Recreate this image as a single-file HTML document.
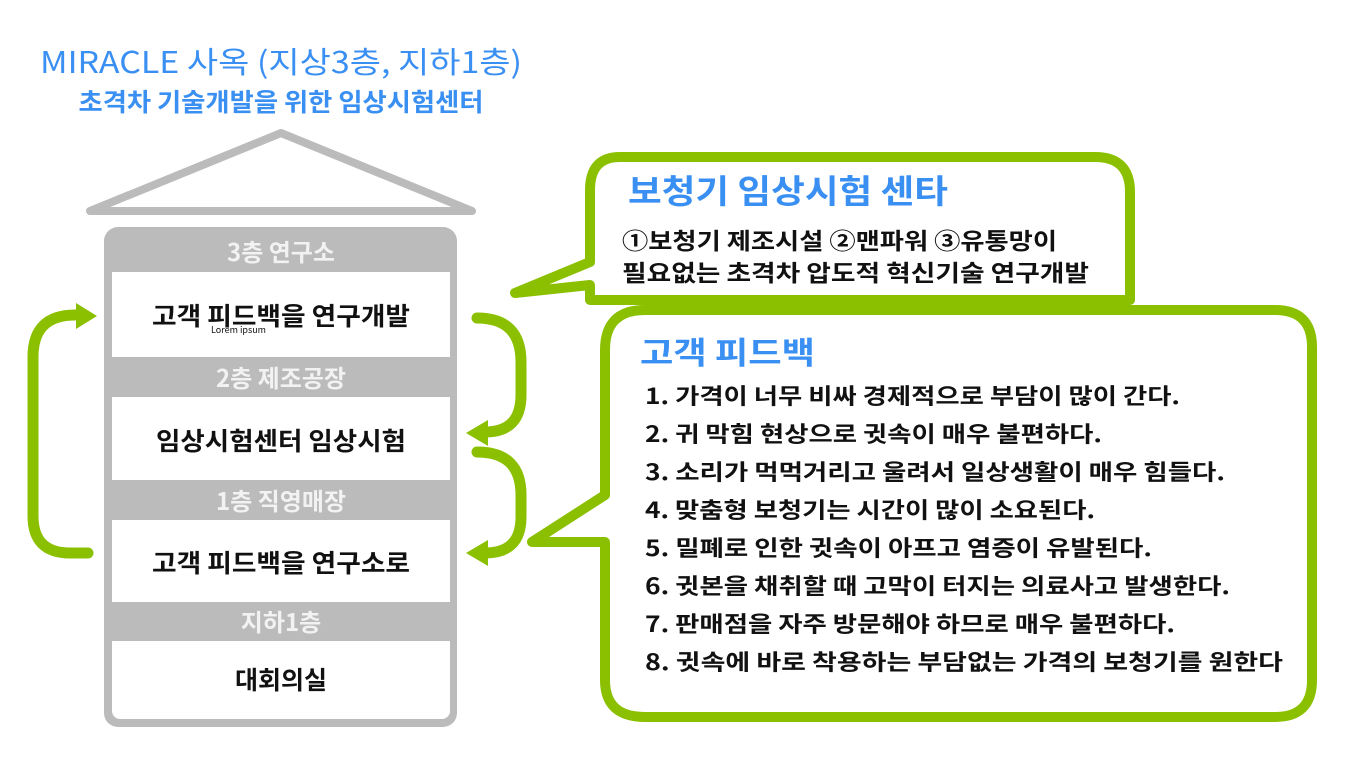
<!DOCTYPE html>
<html><head><meta charset="utf-8"><style>
html,body{margin:0;padding:0;background:#fff;}
svg{display:block;}
text{font-family:"Noto Sans CJK KR",sans-serif;}
</style></head><body>
<svg width="1346" height="778" viewBox="0 0 1346 778" xmlns="http://www.w3.org/2000/svg">
<!-- titles -->
<text x="281" y="73" text-anchor="middle" font-size="30" fill="#3a8ff2" textLength="482" lengthAdjust="spacingAndGlyphs">MIRACLE 사옥 (지상3층, 지하1층)</text>
<text x="281" y="111" text-anchor="middle" font-size="25" font-weight="bold" fill="#3a8ff2" textLength="405" lengthAdjust="spacingAndGlyphs">초격차 기술개발을 위한 임상시험센터</text>
<!-- roof -->
<path d="M90,211 L281,133 L472,211 Z" fill="#fff" stroke="#bbb" stroke-width="8" stroke-linejoin="round"/>
<!-- building -->
<rect x="104" y="227" width="353" height="500" rx="14" fill="#bbb"/>
<rect x="112" y="272" width="338" height="85" fill="#fff"/>
<rect x="112" y="397" width="338" height="83" fill="#fff"/>
<rect x="112" y="520" width="338" height="82" fill="#fff"/>
<rect x="112" y="641" width="338" height="78" rx="8" fill="#fff"/>
<rect x="112" y="641" width="338" height="20" fill="#fff"/>
<g font-weight="bold" text-anchor="middle">
<g fill="#f2f2f2" font-size="24">
<text x="281" y="261">3층 연구소</text>
<text x="281" y="387">2층 제조공장</text>
<text x="281" y="510">1층 직영매장</text>
<text x="281" y="631">지하1층</text>
</g>
<g fill="#111" font-size="25">
<text x="281" y="325" textLength="258" lengthAdjust="spacingAndGlyphs">고객 피드백을 연구개발</text>
<text x="281" y="450" textLength="250" lengthAdjust="spacingAndGlyphs">임상시험센터 임상시험</text>
<text x="281" y="572" textLength="258" lengthAdjust="spacingAndGlyphs">고객 피드백을 연구소로</text>
<text x="281" y="689">대회의실</text>
</g>
</g>
<text x="211" y="333" font-size="9" fill="#111" font-family="Liberation Sans, sans-serif">Lorem ipsum</text>
<!-- arrows -->
<g fill="none" stroke="#8bc000" stroke-width="11" stroke-linecap="round">
<path d="M88,553 L70,553 Q33,553 33,516 L33,357 Q33,315 75,315"/>
<path d="M477,318 Q521,318 521,362 L521,395 Q521,432 485,432"/>
<path d="M477,452 Q521,452 521,495 L521,517 Q521,553 485,553"/>
</g>
<g fill="#8bc000">
<polygon points="97,316 76,303 76,329"/>
<polygon points="466,433 488,420 488,446"/>
<polygon points="466,553 488,540 488,566"/>
</g>
<!-- bubble 1 -->
<path d="M620,157 L1095,157 Q1130,157 1130,192 L1130,300 L590,300 L590,285 L515,293 L590,262 L590,190 Q590,157 620,157 Z" fill="#fff" stroke="#8bc000" stroke-width="10" stroke-linejoin="round"/>
<!-- bubble 2 -->
<path d="M645,310 L1275,310 Q1312,310 1312,347 L1312,680 Q1312,717 1275,717 L645,717 Q605,717 605,680 L605,542 L532,542 L605,495 L605,350 Q605,310 645,310 Z" fill="#fff" stroke="#8bc000" stroke-width="10" stroke-linejoin="round"/>
<g font-weight="bold">
<text x="628" y="203" font-size="33" fill="#3a8ff2" textLength="320" lengthAdjust="spacingAndGlyphs">보청기 임상시험 센타</text>
<text x="622" y="249" font-size="23" fill="#111" textLength="435" lengthAdjust="spacingAndGlyphs">①보청기 제조시설 ②맨파워 ③유통망이</text>
<text x="622" y="281" font-size="23" fill="#111" textLength="467" lengthAdjust="spacingAndGlyphs">필요없는 초격차 압도적 혁신기술 연구개발</text>
<text x="640" y="364" font-size="31" fill="#3a8ff2" textLength="175" lengthAdjust="spacingAndGlyphs">고객 피드백</text>
<g font-size="22" fill="#111">
<text x="645" y="404" textLength="535" lengthAdjust="spacingAndGlyphs">1. 가격이 너무 비싸 경제적으로 부담이 많이 간다.</text>
<text x="645" y="442" textLength="457" lengthAdjust="spacingAndGlyphs">2. 귀 막힘 현상으로 귓속이 매우 불편하다.</text>
<text x="645" y="480" textLength="580" lengthAdjust="spacingAndGlyphs">3. 소리가 먹먹거리고 울려서 일상생활이 매우 힘들다.</text>
<text x="645" y="518" textLength="450" lengthAdjust="spacingAndGlyphs">4. 맞춤형 보청기는 시간이 많이 소요된다.</text>
<text x="645" y="556" textLength="507" lengthAdjust="spacingAndGlyphs">5. 밀폐로 인한 귓속이 아프고 염증이 유발된다.</text>
<text x="645" y="594" textLength="585" lengthAdjust="spacingAndGlyphs">6. 귓본을 채취할 때 고막이 터지는 의료사고 발생한다.</text>
<text x="645" y="632" textLength="530" lengthAdjust="spacingAndGlyphs">7. 판매점을 자주 방문해야 하므로 매우 불편하다.</text>
<text x="645" y="670" textLength="638" lengthAdjust="spacingAndGlyphs">8.  귓속에  바로 착용하는 부담없는 가격의 보청기를 원한다</text>
</g>
</g>
</svg>
</body></html>
